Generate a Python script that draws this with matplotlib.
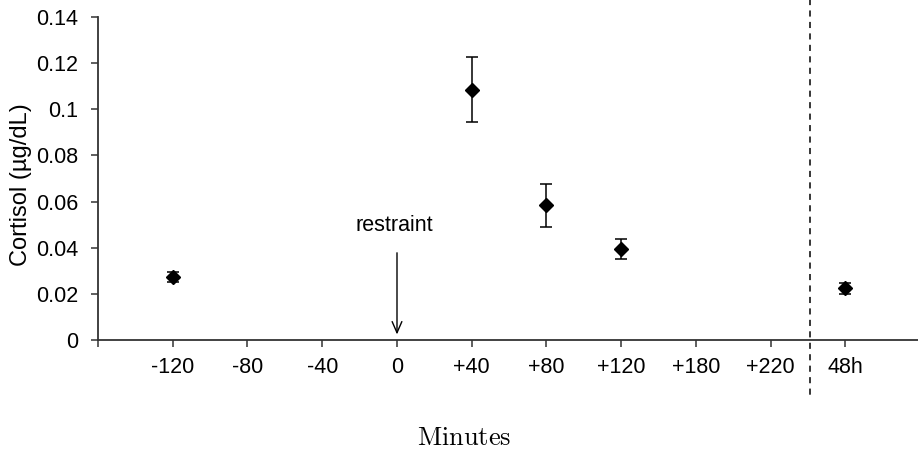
import matplotlib
matplotlib.use("Agg")
import matplotlib.pyplot as plt
import matplotlib.transforms as mtransforms

plt.rcParams['font.family'] = ['Liberation Sans', 'DejaVu Sans']
plt.rcParams['mathtext.fontset'] = 'cm'

categories = ['-120', '-80', '-40', '0', '+40', '+80', '+120', '+180', '+220', '48h']
point_labels = ['-120', '+40', '+80', '+120', '48h']
cortisol = [0.0273, 0.1085, 0.0583, 0.0395, 0.0224]
errors = [0.0022, 0.0142, 0.0095, 0.0043, 0.0024]
y_ticks = [0, 0.02, 0.04, 0.06, 0.08, 0.1, 0.12, 0.14]
y_tick_labels = ['0', '0.02', '0.04', '0.06', '0.08', '0.1', '0.12', '0.14']

fig = plt.figure(figsize=(9.18, 4.54), dpi=100)
ax = fig.add_axes([98/918, 1-340/454, 1-98/918, (340-17)/454])

xpos = [categories.index(c) for c in point_labels]
ax.errorbar(xpos, cortisol, yerr=errors, fmt='D', color='black', ms=7.2,
            ecolor='black', elinewidth=1.1, capsize=4.3, capthick=1.1, zorder=3)

ax.set_xlim(-1, 9.97)
ax.set_ylim(0, 0.14)
ax.set_xticks(list(range(-1, len(categories))))
ax.set_xticklabels([''] + categories)
ax.set_yticks(y_ticks)
ax.set_yticklabels(y_tick_labels)
ax.tick_params(axis='both', direction='out', length=5, width=1.1, labelsize=15.5,
               color='#333333')
ax.tick_params(axis='x', pad=7)
ax.tick_params(axis='y', pad=9)
for s in ['top', 'right']:
    ax.spines[s].set_visible(False)
for s in ['left', 'bottom']:
    ax.spines[s].set_linewidth(1.3)
    ax.spines[s].set_color('#333333')

ax.set_ylabel('Cortisol (µg/dL)', fontsize=17)
ax.yaxis.set_label_coords(-(98-32)/(918-98), (340-184.5)/323)

# dashed separator between +220 and 48h
trans = mtransforms.blended_transform_factory(ax.transData, ax.transAxes)
ax.plot([8.52, 8.52], [1.055, -0.186], transform=trans, color='black',
        lw=1.1, ls=(0, (4, 3.5)), clip_on=False)

# restraint arrow
ax.annotate('', xy=(3, 0.0012), xytext=(3, 0.039),
            arrowprops=dict(arrowstyle='->,head_length=0.8,head_width=0.35', lw=1.0, color='black'))
ax.text(2.97, 0.0495, 'restraint', ha='center', va='center', fontsize=15.5)

fig.text(464/918, 1-438/454, r'$\mathrm{Minutes}$', ha='center', va='center', fontsize=19)

fig.savefig('out.png', dpi=100)
